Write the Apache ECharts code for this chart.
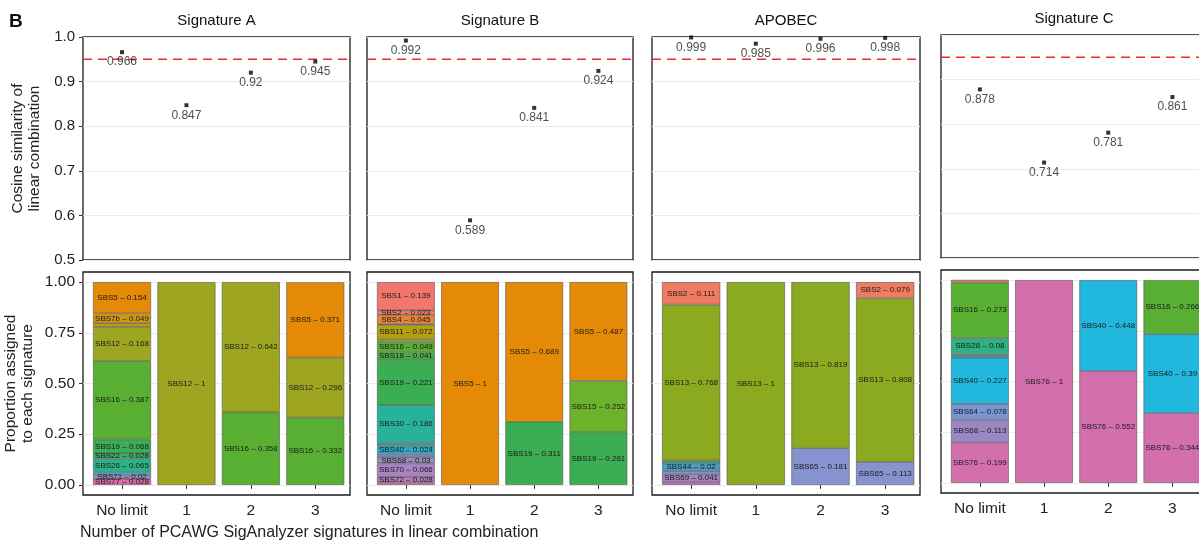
<!DOCTYPE html>
<html><head><meta charset="utf-8">
<script src="https://cdn.jsdelivr.net/npm/echarts@6/dist/echarts.min.js"></script>
<style>html,body{margin:0;padding:0;background:#fff}#c{width:1199px;height:542px}</style>
</head><body><div id="c"></div>
<script>
// ---------- DATA ----------
const categories = ['No limit', '1', '2', '3'];
const panelTitles = ['Signature A', 'Signature B', 'APOBEC', 'Signature C'];
const threshold = 0.95;

const cosA = [0.966, 0.847, 0.92, 0.945];
const cosB = [0.992, 0.589, 0.841, 0.924];
const cosAPOBEC = [0.999, 0.985, 0.996, 0.998];
const cosC = [0.878, 0.714, 0.781, 0.861];

// proportions per bar, listed top to bottom
const propA_noLimit = [['SBS5',0.154],['SBS7b',0.049],['SBS10a',0.018],['SBS12',0.168],['SBS16',0.387],['SBS19',0.068],['SBS22',0.028],['SBS26',0.065],['SBS40',0.015],['SBS71',0.02],['SBS77',0.028]];
const propA_1 = [['SBS12',1]];
const propA_2 = [['SBS12',0.642],['SBS16',0.358]];
const propA_3 = [['SBS5',0.371],['SBS12',0.296],['SBS16',0.332]];

const propB_noLimit = [['SBS1',0.139],['SBS2',0.023],['SBS4',0.045],['SBS7a',0.004],['SBS11',0.072],['SBS13',0.013],['SBS16',0.049],['SBS18',0.041],['SBS19',0.221],['SBS30',0.186],['SBS37',0.012],['SBS39',0.011],['SBS40',0.024],['SBS54',0.012],['SBS58',0.012],['SBS68',0.03],['SBS70',0.066],['SBS72',0.028],['SBS77',0.012]];
const propB_1 = [['SBS5',1]];
const propB_2 = [['SBS5',0.689],['SBS19',0.311]];
const propB_3 = [['SBS5',0.487],['SBS15',0.252],['SBS19',0.261]];

const propAPOBEC_noLimit = [['SBS2',0.111],['SBS13',0.768],['SBS15',0.008],['SBS30',0.012],['SBS44',0.02],['SBS54',0.014],['SBS65',0.014],['SBS69',0.041],['SBS76',0.012]];
const propAPOBEC_1 = [['SBS13',1]];
const propAPOBEC_2 = [['SBS13',0.819],['SBS65',0.181]];
const propAPOBEC_3 = [['SBS2',0.079],['SBS13',0.808],['SBS65',0.113]];

const propC_noLimit = [['SBS2',0.013],['SBS16',0.273],['SBS28',0.08],['SBS30',0.008],['SBS39',0.01],['SBS40',0.227],['SBS64',0.078],['SBS68',0.113],['SBS76',0.199]];
const propC_1 = [['SBS76',1]];
const propC_2 = [['SBS40',0.448],['SBS76',0.552]];
const propC_3 = [['SBS16',0.266],['SBS40',0.39],['SBS76',0.344]];

const sigOrder = ['SBS1','SBS2','SBS4','SBS5','SBS7a','SBS7b','SBS10a','SBS11','SBS12','SBS13','SBS15','SBS16','SBS18','SBS19','SBS22','SBS26','SBS28','SBS30','SBS37','SBS39','SBS40','SBS44','SBS54','SBS58','SBS64','SBS65','SBS68','SBS69','SBS70','SBS71','SBS72','SBS76','SBS77'];
const sigColors = ['#F3766E','#EF7C60','#EC8239','#E58A06','#DC9000','#CF9713','#BC9C14','#B3A012','#9EA520','#8BAA1F','#6CB22A','#58AF32','#44B042','#3BAD52','#30B06A','#2BB289','#2FB27F','#27B39A','#22B3B5','#1FB4C8','#22B8DE','#2BB5E6','#55A5E0','#6A9CDB','#7A96D2','#8793CE','#9A88C2','#A183C4','#A884C1','#B17DC0','#B97BBB','#D26FAC','#DA6BA6'];

// ---------- BUILD ----------
const W = 1199;
const font = 'Liberation Sans, Arial, sans-serif';
const panels = [
  {cos: cosA, props: [propA_noLimit, propA_1, propA_2, propA_3]},
  {cos: cosB, props: [propB_noLimit, propB_1, propB_2, propB_3]},
  {cos: cosAPOBEC, props: [propAPOBEC_noLimit, propAPOBEC_1, propAPOBEC_2, propAPOBEC_3]},
  {cos: cosC, props: [propC_noLimit, propC_1, propC_2, propC_3]}
];
const layout = [{l:83,r:350,dy:0},{l:367,r:633,dy:0},{l:652,r:920,dy:0},{l:941,r:1207,dy:-2}];
const TOP_T = 37, TOP_B = 260, BOT_T = 272, BOT_B = 495;
const DL = 6.8, DR = 2.5;

const grid = [], xAxis = [], yAxis = [], series = [], title = [];
const frameStyle = {show:true, borderColor:'#1a1a1a', borderWidth:1.3, backgroundColor:'rgba(0,0,0,0)'};
function box(l, r, t, h) { return {left:l, width:r - l, top:t, height:h, outerBoundsMode:'none', containLabel:false}; }

panels.forEach((p, i) => {
  const L = layout[i];
  // ---- top frame grid (y labels, grid lines, threshold) ----
  let gi = grid.length;
  grid.push(Object.assign(box(L.l, L.r, TOP_T+L.dy, TOP_B-TOP_T), frameStyle));
  xAxis.push({type:'value', gridIndex:gi, min:0, max:1, show:false});
  yAxis.push({type:'value', gridIndex:gi, min:0.5, max:1, interval:0.1,
    axisLine:{show:false},
    axisTick:{show:i===0, length:4, lineStyle:{color:'#333'}},
    axisLabel:{show:i===0, margin:8, fontSize:15, color:'#222', fontFamily:font, formatter:v=>v.toFixed(1)},
    splitLine:{show:true, lineStyle:{color:'#EBEBEB', width:1}},
    name: i===0 ? 'Cosine similarity of\nlinear combination' : '',
    nameLocation:'middle', nameRotate:90, nameGap:40,
    nameTextStyle:{fontSize:15.5, color:'#222', fontFamily:font, lineHeight:17}
  });
  series.push({type:'line', xAxisIndex:xAxis.length-1, yAxisIndex:yAxis.length-1,
    data:[[0,threshold],[1,threshold]], symbol:'none', silent:true, z:3, color:'#EE2A2F',
    itemStyle:{color:'#EE2A2F'},
    lineStyle:{color:'#EE2A2F', width:1.6, type:[9,6], opacity:1}});
  // ---- top data grid (points) ----
  gi = grid.length;
  grid.push(box(L.l+DL, L.r-DR, TOP_T+L.dy, TOP_B-TOP_T));
  xAxis.push({type:'category', gridIndex:gi, data:categories, show:false});
  yAxis.push({type:'value', gridIndex:gi, min:0.5, max:1, show:false});
  series.push({type:'scatter', xAxisIndex:xAxis.length-1, yAxisIndex:yAxis.length-1,
    data:p.cos, symbol:'rect', symbolSize:4, itemStyle:{color:'#000'}, z:4,
    label:{show:true, position:'bottom', distance:2, fontSize:12, color:'#222', fontFamily:font,
      formatter:d=>String(d.value)}});

  // ---- bottom frame grid (border only) ----
  gi = grid.length;
  const h = BOT_B - BOT_T;
  grid.push(Object.assign(box(L.l, L.r, BOT_T+L.dy, h), frameStyle));
  xAxis.push({type:'value', gridIndex:gi, min:0, max:1, show:false});
  yAxis.push({type:'value', gridIndex:gi, min:0, max:1, show:false});
  // ---- bottom inner grid (y labels + grid lines, 0..1) ----
  gi = grid.length;
  const innerTop = BOT_T + L.dy + h*0.05/1.1, innerH = h/1.1;
  grid.push(box(L.l, L.r, innerTop, innerH));
  xAxis.push({type:'value', gridIndex:gi, min:0, max:1, show:false});
  yAxis.push({type:'value', gridIndex:gi, min:0, max:1, interval:0.25,
    axisLine:{show:false},
    axisTick:{show:i===0, length:4, lineStyle:{color:'#333'}},
    axisLabel:{show:i===0, margin:8, fontSize:15.5, color:'#222', fontFamily:font, formatter:v=>v.toFixed(2)},
    splitLine:{show:true, lineStyle:{color:'#EBEBEB', width:1}},
    name: i===0 ? 'Proportion assigned\nto each signature' : '',
    nameLocation:'middle', nameRotate:90, nameGap:47,
    nameTextStyle:{fontSize:15.5, color:'#222', fontFamily:font, lineHeight:17}
  });
  // ---- bottom data grid (bars) ----
  gi = grid.length;
  grid.push(box(L.l+DL, L.r-DR, BOT_T+L.dy, h));
  const bx = xAxis.length;
  xAxis.push({type:'category', gridIndex:gi, data:categories,
    axisLine:{show:false},
    axisTick:{show:true, alignWithLabel:true, length:4, lineStyle:{color:'#333'}},
    axisLabel:{margin:8, fontSize:15.5, color:'#222', fontFamily:font, interval:0}});
  const by = yAxis.length;
  yAxis.push({type:'value', gridIndex:gi, min:-0.05, max:1.05, show:false});
  const names = [];
  p.props.forEach(list => list.forEach(e => { if (!names.includes(e[0])) names.push(e[0]); }));
  names.sort((a,b) => sigOrder.indexOf(b) - sigOrder.indexOf(a)); // bottom first
  names.forEach(n => {
    const data = p.props.map(list => { const f = list.find(e => e[0] === n); return f ? f[1] : '-'; });
    series.push({type:'bar', name:n, stack:'s'+i, xAxisIndex:bx, yAxisIndex:by, data,
      barWidth:'90%', z:2,
      itemStyle:{color:sigColors[sigOrder.indexOf(n)], borderColor:'#555', borderWidth:0.6},
      emphasis:{disabled:true},
      label:{show:true, position:'inside', fontSize:8, color:'#1a1a1a', fontFamily:font,
        formatter:d => (typeof d.value === 'number' && d.value >= 0.02) ? (n + ' – ' + d.value) : ''}
    });
  });

  title.push({text:panelTitles[i], left:(L.l+L.r)/2, top:13+L.dy, textAlign:'center', padding:0,
    textStyle:{fontSize:15, fontWeight:'normal', color:'#111', fontFamily:font}});
});

title.push({text:'B', left:9, top:12, padding:0, textStyle:{fontSize:19, fontWeight:'bold', color:'#111', fontFamily:font}});
title.push({text:'Number of PCAWG SigAnalyzer signatures in linear combination', left:80, top:525, padding:0,
  textStyle:{fontSize:16, fontWeight:'normal', color:'#222', fontFamily:font}});

const chart = echarts.init(document.getElementById('c'), null, {renderer:'canvas'});
chart.setOption({animation:false, backgroundColor:'#fff', title, grid, xAxis, yAxis, series, tooltip:{show:false}});
</script>
</body></html>
